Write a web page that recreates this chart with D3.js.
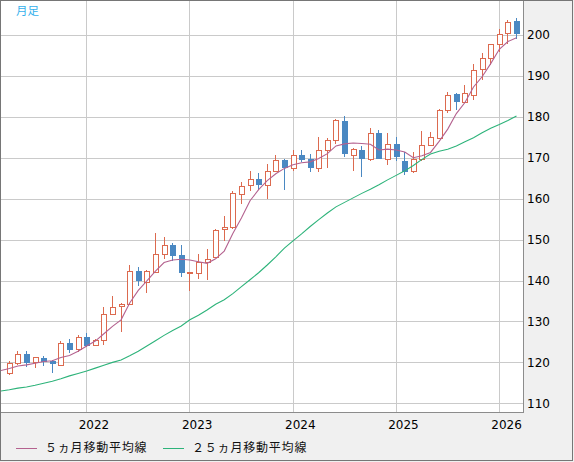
<!DOCTYPE html>
<html>
<head>
<meta charset="utf-8">
<script src="https://cdn.jsdelivr.net/npm/d3@7"></script>
<style>
  html, body { margin: 0; padding: 0; background: #f0f0f0; }
  svg { display: block; }
</style>
</head>
<body>
<svg id="chart" width="574" height="462"></svg>
<script>
// ---- categories (first entry is only used by the moving averages) ----
const months = [
  "2021-03","2021-04","2021-05","2021-06","2021-07","2021-08","2021-09","2021-10","2021-11","2021-12",
  "2022-01","2022-02","2022-03","2022-04","2022-05","2022-06","2022-07","2022-08","2022-09","2022-10","2022-11","2022-12",
  "2023-01","2023-02","2023-03","2023-04","2023-05","2023-06","2023-07","2023-08","2023-09","2023-10","2023-11","2023-12",
  "2024-01","2024-02","2024-03","2024-04","2024-05","2024-06","2024-07","2024-08","2024-09","2024-10","2024-11","2024-12",
  "2025-01","2025-02","2025-03","2025-04","2025-05","2025-06","2025-07","2025-08","2025-09","2025-10","2025-11","2025-12",
  "2026-01","2026-02","2026-03"
];
const candleMonths = months.slice(1);

// ---- OHLC (Apr 2021 .. Mar 2026) ----
const open = [
  117.3,119.8,122.0,120.1,121.0,120.4,119.4,124.7,123.2,
  126.1,124.2,125.4,131.7,133.7,134.2,142.3,139.7,142.2,146.4,148.7,146.2,
  141.9,141.9,144.6,145.7,152.5,153.0,161.1,163.3,164.7,163.3,166.7,169.5,
  167.4,170.6,169.6,167.6,171.8,174.3,179.1,170.7,171.9,169.6,176.0,169.8,
  173.4,169.2,166.8,169.6,173.0,174.8,181.7,185.6,183.7,185.3,191.6,194.3,
  197.7,200.4,203.3
];
const high = [
  120.3,122.8,122.9,121.3,121.5,120.7,125.2,125.7,126.6,
  127.2,125.7,133.5,136.2,134.6,143.8,143.3,142.6,151.5,150.6,149.1,148.7,
  142.2,146.6,147.7,152.6,155.8,162.0,164.2,166.8,166.2,168.5,170.7,169.8,
  171.8,171.9,170.9,175.1,174.8,179.5,180.2,172.3,172.9,177.2,176.8,176.0,
  175.1,171.5,171.5,176.5,176.2,182.0,186.1,185.9,187.8,192.8,195.7,197.9,
  201.5,203.7,204.2
];
const low = [
  116.9,119.4,118.8,118.7,119.1,117.5,119.2,122.4,122.5,
  123.8,124.0,124.3,131.5,127.5,134.0,138.7,137.0,142.0,145.3,144.8,140.9,
  137.5,140.4,140.1,145.5,149.7,152.7,158.6,162.0,162.1,160.0,166.5,162.1,
  166.8,169.0,166.5,166.6,167.4,173.3,170.3,166.8,165.4,169.3,169.6,168.2,
  169.3,165.8,166.3,169.2,172.9,174.6,180.9,181.7,183.5,184.1,189.0,192.7,
  195.9,197.7,199.0
];
const close = [
  119.8,122.0,119.9,121.2,120.2,119.5,124.7,123.1,126.3,
  124.1,125.4,131.8,133.5,134.3,142.3,139.9,142.3,146.6,148.7,146.1,141.9,
  142.0,144.6,145.2,152.3,153.1,161.3,163.2,164.7,163.3,166.8,169.4,167.6,
  170.6,169.5,167.6,171.9,174.3,179.2,170.8,172.1,169.8,176.0,169.8,173.4,
  170.3,166.6,169.6,173.0,175.0,181.7,185.3,183.7,185.8,191.4,194.3,197.7,
  200.2,203.1,200.2
];

// ---- moving averages (Mar 2021 .. Mar 2026) ----
const ma5 = [
  118.0,118.5,119.1,119.4,119.8,120.2,120.4,121.2,121.7,122.7,
  124.0,125.2,127.0,128.8,130.4,134.5,137.6,139.9,142.3,144.4,145.0,145.2,
  145.0,144.6,144.2,145.3,147.2,151.5,155.3,159.5,162.2,164.4,166.1,167.4,
  168.3,168.8,169.0,169.8,171.0,172.9,173.4,173.6,173.5,173.3,171.9,172.1,
  171.9,171.4,170.0,170.5,171.3,174.0,177.0,180.8,183.5,187.3,189.8,193.0,
  196.5,198.4,199.3
];
const ma25 = [
  113.0,113.3,113.7,114.0,114.4,114.9,115.4,116.0,116.7,117.3,
  117.9,118.6,119.3,120.0,120.6,121.6,122.7,124.0,125.3,126.6,127.8,128.9,
  130.4,131.5,132.8,134.2,135.3,136.8,138.5,140.2,141.9,143.8,145.8,147.9,
  149.7,151.4,153.2,154.9,156.5,158.0,159.1,160.2,161.3,162.3,163.4,164.6,
  165.7,166.8,168.1,169.6,170.9,171.6,172.1,172.9,173.9,174.9,176.1,177.2,
  178.1,179.1,180.2
];

// ---- tick labels ----
const yTicks = [110,120,130,140,150,160,170,180,190,200];
const yearTicks = ["2022","2023","2024","2025","2026"];
const legendLabels = ["５ヵ月移動平均線","２５ヵ月移動平均線"];
const periodLabel = "月足";

// ---- layout / style ----
const W = 574, H = 462;
const plot = {left: 1, top: 1, right: 523, bottom: 412};
const col = {
  up: "#dc6a4f", down: "#4a88c2", ma5: "#b4628f", ma25: "#2db37a",
  grid: "#cacaca", frame: "#767676", border: "#8c8c8c"
};

const svg = d3.select("#chart");

const x = d3.scalePoint().domain(months).range([0.74, 516.5]);
const y = d3.scaleLinear().domain([110, 200]).range([403.3, 35]);

// outer background & plot area
svg.append("rect").attr("x",0).attr("y",0).attr("width",W).attr("height",H).attr("fill","#f0f0f0");
svg.append("rect").attr("x",plot.left).attr("y",plot.top)
  .attr("width",plot.right-plot.left).attr("height",plot.bottom-plot.top).attr("fill","#fff");

svg.append("defs").append("clipPath").attr("id","clip")
  .append("rect").attr("x",plot.left).attr("y",plot.top)
  .attr("width",plot.right-plot.left).attr("height",plot.bottom-plot.top);

const g = svg.append("g").attr("clip-path","url(#clip)");

// grid
g.selectAll("line.hg").data(yTicks).join("line").attr("class","hg")
  .attr("x1",plot.left).attr("x2",plot.right)
  .attr("y1",d=>Math.round(y(d))+0.5).attr("y2",d=>Math.round(y(d))+0.5)
  .attr("stroke",col.grid).attr("stroke-width",1).attr("shape-rendering","crispEdges");
g.selectAll("line.vg").data(yearTicks).join("line").attr("class","vg")
  .attr("x1",d=>Math.floor(x(d+"-01"))+0.5).attr("x2",d=>Math.floor(x(d+"-01"))+0.5)
  .attr("y1",plot.top).attr("y2",plot.bottom)
  .attr("stroke",col.grid).attr("stroke-width",1).attr("shape-rendering","crispEdges");

// candles
const candles = candleMonths.map((m,i)=>({m, o:open[i], h:high[i], l:low[i], c:close[i]}));
const cg = g.selectAll("g.candle").data(candles).join("g").attr("class","candle")
  .attr("shape-rendering","crispEdges");
cg.append("line")
  .attr("x1",d=>Math.floor(x(d.m))+0.5).attr("x2",d=>Math.floor(x(d.m))+0.5)
  .attr("y1",d=>Math.round(y(d.h))).attr("y2",d=>Math.round(y(d.l)))
  .attr("stroke",d=>d.c>=d.o?col.up:col.down).attr("stroke-width",1);
cg.append("rect")
  .attr("x",d=>d.c>=d.o ? Math.floor(x(d.m))-1.5 : Math.floor(x(d.m))-2)
  .attr("width",d=>d.c>=d.o ? 5 : 6)
  .attr("y",d=>d.c>=d.o ? Math.round(y(Math.max(d.o,d.c)))+0.5 : Math.round(y(Math.max(d.o,d.c))))
  .attr("height",d=>{
    const hgt = Math.round(y(Math.min(d.o,d.c))) - Math.round(y(Math.max(d.o,d.c)));
    return d.c>=d.o ? Math.max(hgt,0) : Math.max(hgt,1);
  })
  .attr("fill",d=>d.c>=d.o?"#fff":col.down)
  .attr("stroke",d=>d.c>=d.o?col.up:"none")
  .attr("stroke-width",1);

// moving averages
const line = d3.line().x((d,i)=>x(months[i])).y(d=>y(d));
g.append("path").datum(ma25).attr("d",line).attr("fill","none").attr("stroke",col.ma25).attr("stroke-width",1.1);
g.append("path").datum(ma5).attr("d",line).attr("fill","none").attr("stroke",col.ma5).attr("stroke-width",1.1);

// plot border (right & bottom)
svg.append("line").attr("x1",plot.right+0.5).attr("x2",plot.right+0.5).attr("y1",0).attr("y2",plot.bottom+1)
  .attr("stroke",col.border).attr("shape-rendering","crispEdges");
svg.append("line").attr("x1",0).attr("x2",plot.right+1).attr("y1",plot.bottom+0.5).attr("y2",plot.bottom+0.5)
  .attr("stroke",col.border).attr("shape-rendering","crispEdges");

// outer frame
svg.append("rect").attr("x",0.5).attr("y",0.5).attr("width",572).attr("height",460)
  .attr("fill","none").attr("stroke",col.frame).attr("stroke-width",1).attr("shape-rendering","crispEdges");

// y labels
svg.selectAll("text.yl").data(yTicks).join("text").attr("class","yl")
  .attr("x",527).attr("y",d=>y(d)).attr("dy","0.36em")
  .attr("font-family","DejaVu Sans, sans-serif").attr("font-size",12).attr("fill","#000")
  .text(d=>d);

// x labels
svg.selectAll("text.xl").data(yearTicks).join("text").attr("class","xl")
  .attr("x",d=>x(d+"-01")+7.3).attr("y",425).attr("dy","0.36em")
  .attr("text-anchor","middle")
  .attr("font-family","DejaVu Sans, sans-serif").attr("font-size",12).attr("fill","#000")
  .text(d=>d);

// period label
svg.append("text").attr("x",16).attr("y",11).attr("dy","0.36em")
  .attr("font-family","'Noto Sans CJK JP', sans-serif").attr("font-size",11.5)
  .attr("fill","#35b0ec").text(periodLabel);

// legend
const legend = [
  {label: legendLabels[0], color: col.ma5, x1: 16, x2: 37, tx: 45},
  {label: legendLabels[1], color: col.ma25, x1: 163, x2: 184, tx: 192}
];
const lg = svg.selectAll("g.leg").data(legend).join("g").attr("class","leg");
lg.append("line").attr("x1",d=>d.x1).attr("x2",d=>d.x2).attr("y1",448.5).attr("y2",448.5)
  .attr("stroke",d=>d.color).attr("stroke-width",1).attr("shape-rendering","crispEdges");
lg.append("text").attr("x",d=>d.tx).attr("y",448).attr("dy","0.36em")
  .attr("font-family","'Noto Sans CJK JP', sans-serif").attr("font-size",12)
  .attr("letter-spacing","0.8px").attr("fill","#111").text(d=>d.label);
</script>
</body>
</html>
